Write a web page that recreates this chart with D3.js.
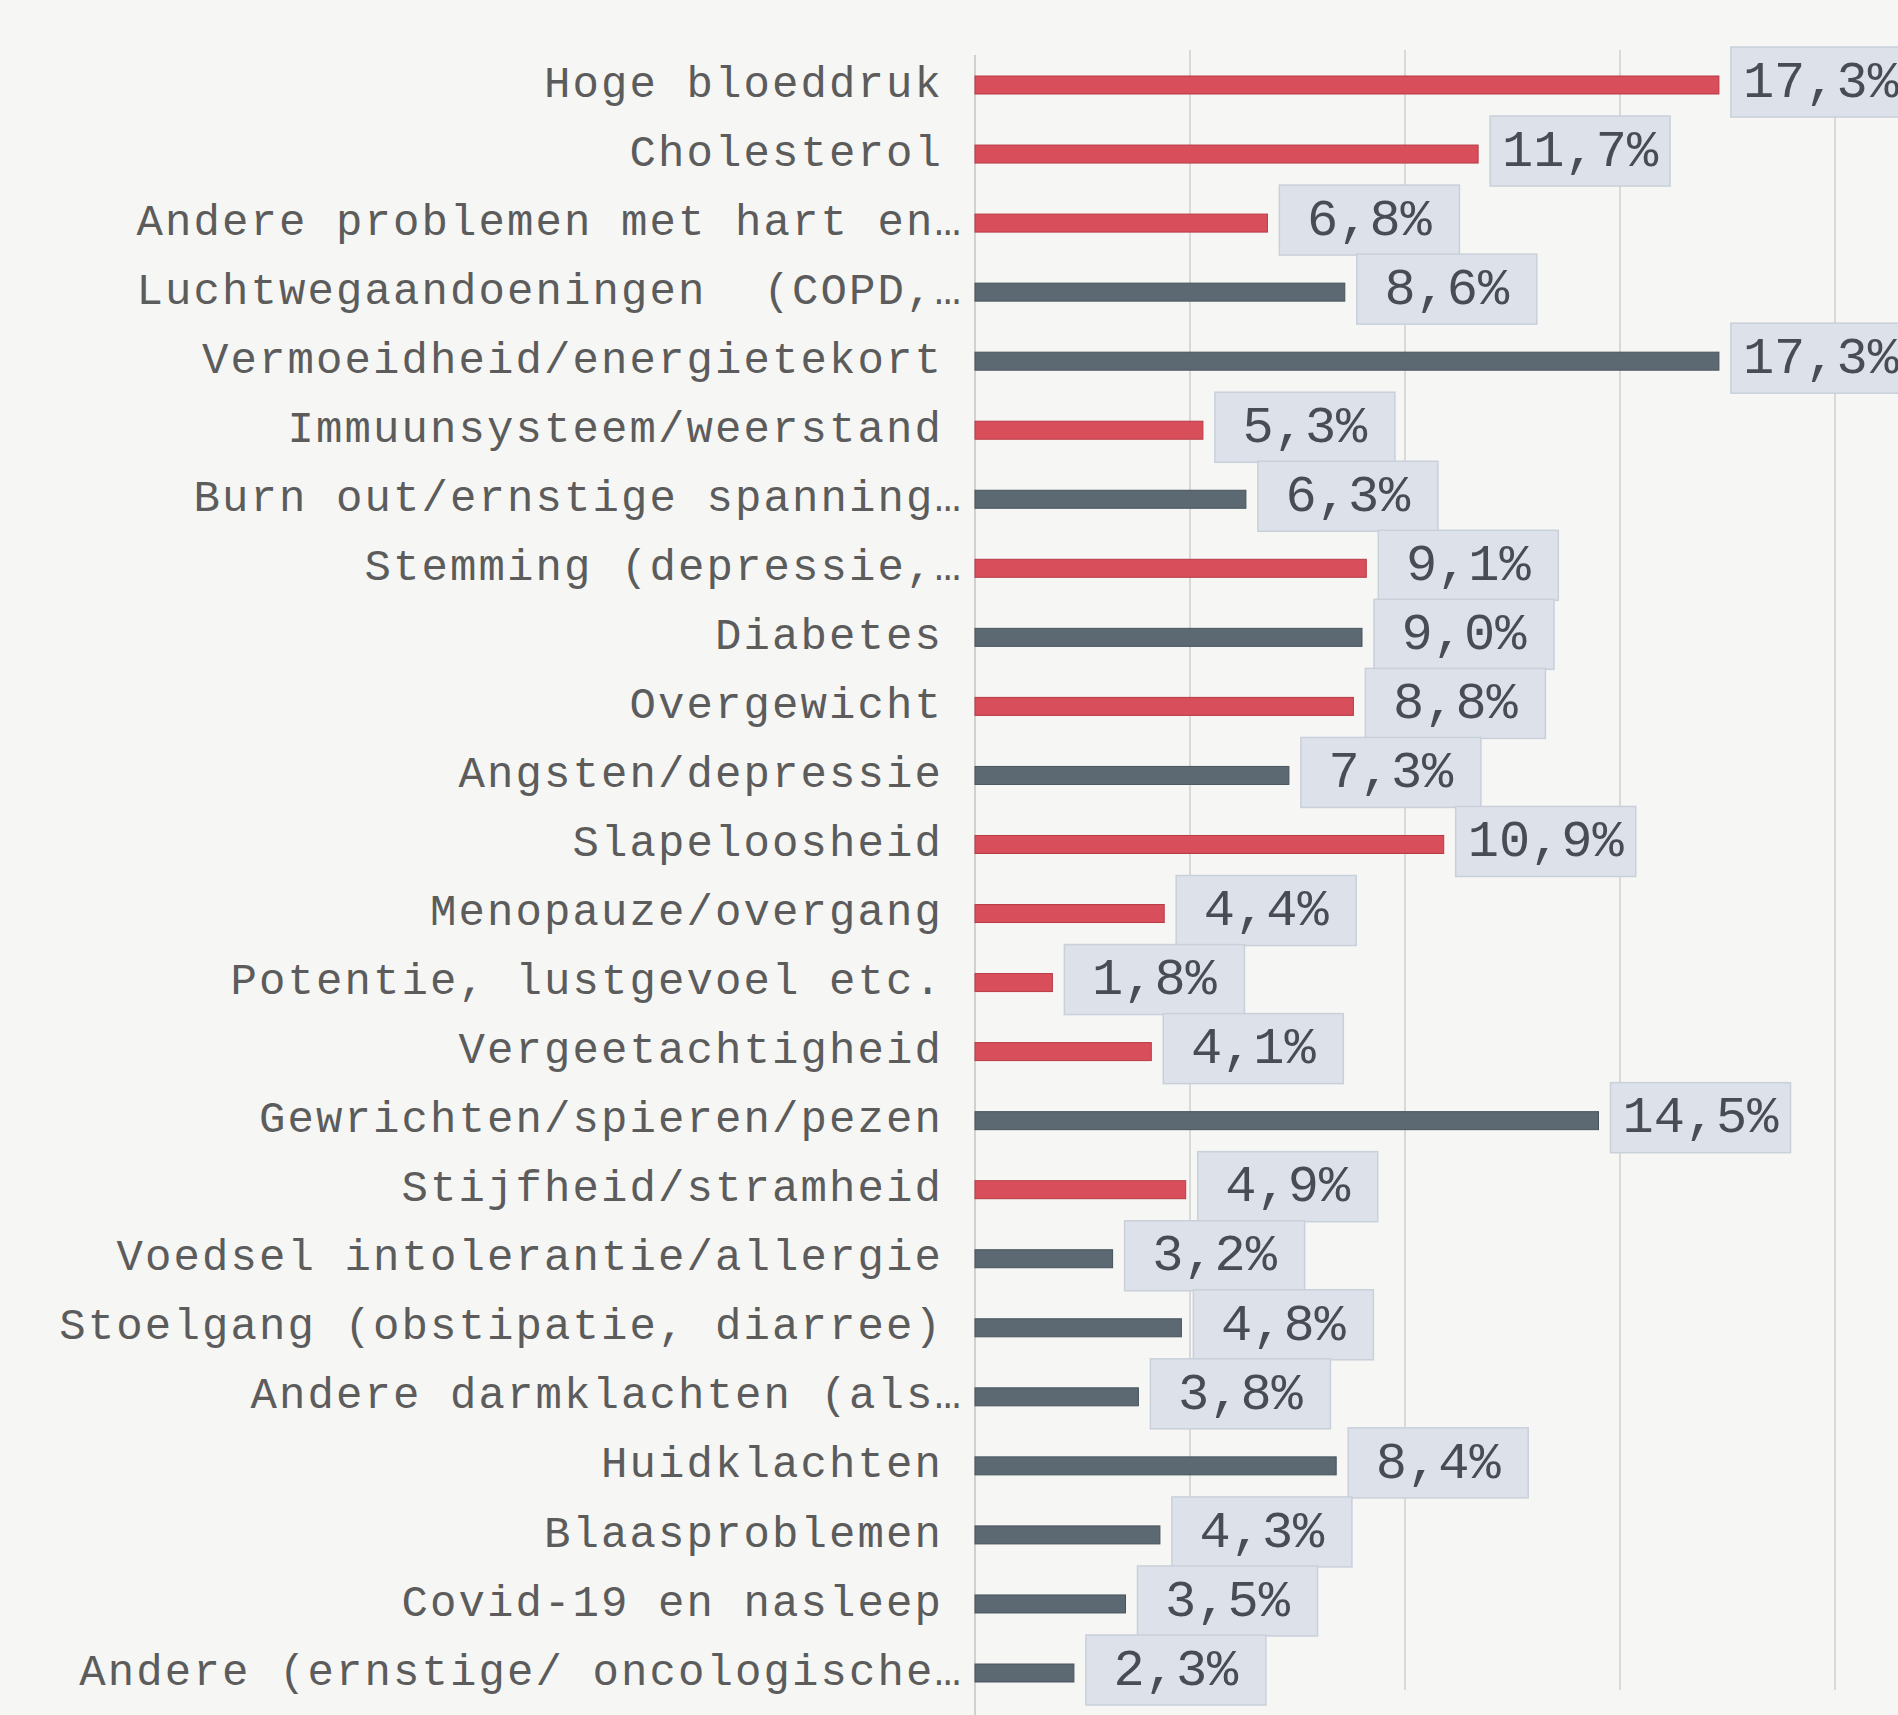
<!DOCTYPE html>
<html><head><meta charset="utf-8">
<script src="https://cdn.jsdelivr.net/npm/d3@7"></script>
<style>
html,body{margin:0;padding:0;background:#f6f6f4;}
svg{display:block;}
text{white-space:pre;}
</style></head>
<body>
<svg id="chart" width="1898" height="1715"></svg>
<script>
const categories = [
  "Hoge bloeddruk","Cholesterol","Andere problemen met hart en…","Luchtwegaandoeningen  (COPD,…",
  "Vermoeidheid/energietekort","Immuunsysteem/weerstand","Burn out/ernstige spanning…","Stemming (depressie,…",
  "Diabetes","Overgewicht","Angsten/depressie","Slapeloosheid","Menopauze/overgang",
  "Potentie, lustgevoel etc.","Vergeetachtigheid","Gewrichten/spieren/pezen","Stijfheid/stramheid",
  "Voedsel intolerantie/allergie","Stoelgang (obstipatie, diarree)","Andere darmklachten (als…",
  "Huidklachten","Blaasproblemen","Covid-19 en nasleep","Andere (ernstige/ oncologische…"
];
const values = [17.3,11.7,6.8,8.6,17.3,5.3,6.3,9.1,9.0,8.8,7.3,10.9,4.4,1.8,4.1,14.5,4.9,3.2,4.8,3.8,8.4,4.3,3.5,2.3];
const groups = ["rood","rood","rood","grijs","grijs","rood","grijs","rood","grijs","rood","grijs","rood","rood",
  "rood","rood","grijs","rood","grijs","grijs","grijs","grijs","grijs","grijs","grijs"];
const groupNames = ["rood","grijs"];
const gridTicks = [5,10,15,20];

const data = categories.map((c,i)=>({cat:c, v:values[i], g:groups[i]}));
const svg = d3.select("#chart");
const x0 = 975;
const x = d3.scaleLinear().domain([0,20]).range([x0, 1835]);
const y = d3.scalePoint().domain(categories).range([85, 1673]);
const color = d3.scaleOrdinal().domain(groupNames).range(["#d84f5b","#5c6972"]);
const stroke = d3.scaleOrdinal().domain(groupNames).range(["#b73a45","#48545c"]);
const barH = 18;

// gridlines
svg.append("g").selectAll("line").data(gridTicks).join("line")
  .attr("x1", d=>x(d)).attr("x2", d=>x(d)).attr("y1", 50).attr("y2", 1690)
  .attr("stroke", "#cfcfcf").attr("stroke-width", 1.5);
// axis line
svg.append("line").attr("x1", x0).attr("x2", x0).attr("y1", 55).attr("y2", 1715)
  .attr("stroke", "#c4c4c4").attr("stroke-width", 1.5);

// bars
svg.append("g").selectAll("rect").data(data).join("rect")
  .attr("x", x0).attr("y", d=>y(d.cat)-barH/2)
  .attr("width", d=>x(d.v)-x0).attr("height", barH)
  .attr("fill", d=>color(d.g)).attr("stroke", d=>stroke(d.g)).attr("stroke-width", 1);

// category labels
svg.append("g").selectAll("text").data(data).join("text")
  .attr("x", d=> d.cat.endsWith("…") ? x0-12 : x0-32).attr("y", d=>y(d.cat))
  .attr("text-anchor","end").attr("dominant-baseline","middle")
  .attr("font-family","'Courier New','Liberation Mono',monospace")
  .attr("font-size", 44).attr("letter-spacing", 2.1)
  .attr("fill","#5c5c5c")
  .text(d=>d.cat);

// value labels with boxes
const fmt = v => v.toFixed(1).replace(".", ",") + "%";
const lab = svg.append("g").selectAll("g").data(data).join("g")
  .attr("transform", d=>`translate(${x(d.v)+12},${y(d.cat)})`);
const boxW = 180, boxH = 70;
lab.append("rect").attr("x",0).attr("y",-boxH/2-3).attr("width",boxW).attr("height",boxH)
  .attr("fill","#dde2ea").attr("stroke","#c9d0da").attr("stroke-width",1.5);
lab.append("text").attr("x", boxW/2).attr("y", -2)
  .attr("text-anchor","middle").attr("dominant-baseline","middle")
  .attr("font-family","'Courier New','Liberation Mono',monospace")
  .attr("font-size", 52)
  .attr("fill","#484d55")
  .text(d=>fmt(d.v));
</script>
</body></html>
